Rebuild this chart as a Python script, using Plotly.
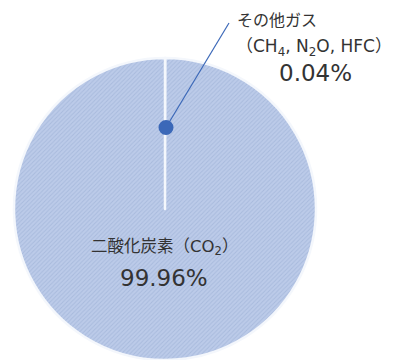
import plotly.graph_objects as go

# Share of greenhouse gas emissions (%)
gas_labels = ["その他ガス", "二酸化炭素"]
gas_share = [0.04, 99.96]
other_gas_names = "（CH<sub>4</sub>, N<sub>2</sub>O, HFC）"
co2_name = "二酸化炭素（CO<sub>2</sub>）"

W, H = 396, 360
# pie placement in pixels (centre and radius)
cx, cy, r = 165, 209, 151

font_family = "DejaVu Sans, Noto Sans CJK JP, sans-serif"
text_color = "#333333"
blue_dark = "#3b68b8"

fig = go.Figure()
fig.add_trace(go.Pie(
    labels=gas_labels,
    values=gas_share,
    sort=False,
    direction="clockwise",
    rotation=0,
    textinfo="none",
    hoverinfo="label+percent",
    showlegend=False,
    domain=dict(x=[(cx - r) / W, (cx + r) / W], y=[(H - cy - r) / H, (H - cy + r) / H]),
    marker=dict(
        colors=["#b6c6e6", "#b6c6e6"],
        line=dict(color="#f4f7fc", width=2.5),
        pattern=dict(shape="/", fgcolor="#a8badd", bgcolor="#bccbe9", size=3, solidity=0.3),
    ),
))

# callout dot inside the small slice and its leader line
dot_x, dot_y = cx + 1, cy - 0.54 * r
lead_x, lead_y = 229, 23
px = lambda x: x / W
py = lambda y: 1 - y / H
fig.add_shape(type="line", xref="paper", yref="paper",
              x0=px(dot_x), y0=py(dot_y), x1=px(lead_x), y1=py(lead_y),
              line=dict(color=blue_dark, width=1.2))
fig.add_shape(type="circle", xref="paper", yref="paper",
              x0=px(dot_x - 7.5), x1=px(dot_x + 7.5),
              y0=py(dot_y + 7.5), y1=py(dot_y - 7.5),
              fillcolor=blue_dark, line=dict(width=0))

def label(x, y, text, size):
    fig.add_annotation(xref="paper", yref="paper", x=px(x), y=py(y),
                       text=text, showarrow=False, xanchor="center", yanchor="middle",
                       font=dict(family=font_family, size=size, color=text_color))

label(277, 20, gas_labels[0], 16)
label(314, 48, other_gas_names, 17)
label(315, 73, f"{gas_share[0]:.2f}%", 23)
label(164, 247, co2_name, 16.5)
label(164, 278, f"{gas_share[1]:.2f}%", 23)

fig.update_layout(
    width=W, height=H,
    margin=dict(l=0, r=0, t=0, b=0),
    paper_bgcolor="white",
    plot_bgcolor="white",
)

fig.write_html("out.html")
